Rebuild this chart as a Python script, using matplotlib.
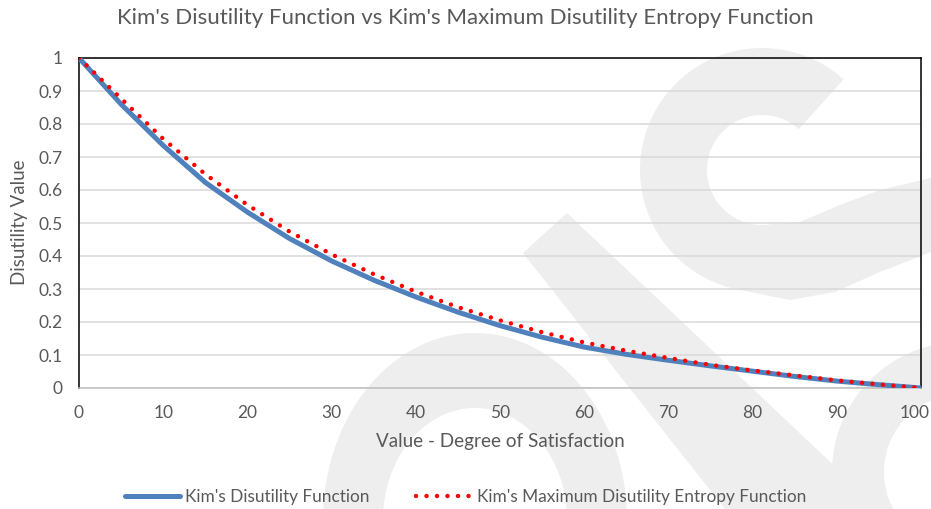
import numpy as np
import matplotlib
matplotlib.use("Agg")
import matplotlib.pyplot as plt
from matplotlib.patches import Polygon
from matplotlib.transforms import ScaledTranslation

# ---------------- data ----------------
satisfaction = [0, 5, 10, 15, 20, 25, 30, 35, 40, 45, 50,
                55, 60, 65, 70, 75, 80, 85, 90, 95, 100]
kim_disutility = [1.000, 0.860, 0.735, 0.623, 0.533, 0.453, 0.385, 0.327,
                  0.276, 0.230, 0.189, 0.154, 0.124, 0.102, 0.084, 0.067,
                  0.051, 0.035, 0.021, 0.010, 0.000]
kim_max_entropy = [1.000, 0.877, 0.755, 0.648, 0.555, 0.474, 0.405, 0.345,
                   0.292, 0.245, 0.205, 0.169, 0.138, 0.113, 0.091, 0.070,
                   0.053, 0.038, 0.023, 0.011, 0.000]
x_ticks = [0, 10, 20, 30, 40, 50, 60, 70, 80, 90, 100]
y_ticks = [0, 0.1, 0.2, 0.3, 0.4, 0.5, 0.6, 0.7, 0.8, 0.9, 1]
y_tick_labels = ["0", "0.1", "0.2", "0.3", "0.4", "0.5", "0.6", "0.7", "0.8", "0.9", "1"]

TXT = "#595959"
FONT = ["Lato", "DejaVu Sans"]
plt.rcParams["font.family"] = FONT

W, H = 931, 509
fig = plt.figure(figsize=(W / 100, H / 100), dpi=100)
fig.patch.set_facecolor("white")

# ---------------- faint background watermark (decoration) ----------------
bg = fig.add_axes([0, 0, 1, 1], zorder=0)
bg.set_xlim(0, W)
bg.set_ylim(H, 0)
bg.axis("off")
WM = "#eeeeee"

def ring(cx, cy, r_out, r_in, a0, a1, n=120):
    t = np.radians(np.linspace(a0, a1, n))
    outer = np.c_[cx + r_out * np.cos(t), cy - r_out * np.sin(t)]
    t2 = t[::-1]
    inner = np.c_[cx + r_in * np.cos(t2), cy - r_in * np.sin(t2)]
    return np.vstack([outer, inner])

def ering(cx, cy, a_out, b_out, a_in, b_in, a0, a1, n=120):
    t = np.radians(np.linspace(a0, a1, n))
    outer = np.c_[cx + a_out * np.cos(t), cy - b_out * np.sin(t)]
    t2 = t[::-1]
    inner = np.c_[cx + a_in * np.cos(t2), cy - b_in * np.sin(t2)]
    return np.vstack([outer, inner])

shapes = [
    ring(762, 170, 122, 55, 48, 285),
    np.array([[757, 226], [800, 222], [840, 205], [880, 190], [931, 178],
              [931, 252], [880, 272], [835, 292], [790, 300], [745, 291]]),
    np.array([[523, 253], [567, 213], [880, 509], [725, 509]]),
    ering(475, 520, 152, 187, 92, 112, 0, 180),
    ring(962, 472, 130, 78, 90, 270),
]
for s in shapes:
    bg.add_patch(Polygon(s, closed=True, facecolor=WM, edgecolor="none"))

# ---------------- main axes ----------------
left, right, top, bottom = 79, 921, 58, 388
ax = fig.add_axes([left / W, 1 - bottom / H, (right - left) / W, (bottom - top) / H], zorder=1)
ax.patch.set_alpha(0)

ax.plot(satisfaction, kim_disutility, color="#4F81BD", lw=3.6,
        solid_capstyle="round", solid_joinstyle="round",
        label="Kim's Disutility Function", zorder=3)
ax.plot(satisfaction, kim_max_entropy, color="#FF0000", lw=3.2,
        linestyle=(0, (0.01, 2.35)), dash_capstyle="round",
        label="Kim's Maximum Disutility Entropy Function", zorder=4)

ax.set_xlim(0, 100)
ax.set_ylim(0, 1)
ax.set_xticks(x_ticks)
ax.set_yticks(y_ticks)
ax.set_yticklabels(y_tick_labels)
ax.tick_params(length=0, pad=12, labelsize=12.5, labelcolor=TXT)
ax.grid(axis="y", color="#d9d9d9", lw=1.1, zorder=1)
ax.set_axisbelow(True)
for side in ["left", "top", "right"]:
    ax.spines[side].set_color("black")
    ax.spines[side].set_linewidth(1.1)
ax.spines["bottom"].set_color("#bfbfbf")
ax.spines["bottom"].set_linewidth(1.1)

# keep the last x tick label inside the figure, as in the reference
last = ax.get_xticklabels()[-1]
last.set_horizontalalignment("right")
last.set_transform(last.get_transform() + ScaledTranslation(9 / 100, 0, fig.dpi_scale_trans))

fig.text(0.5, 1 - 18 / H, "Kim's Disutility Function vs Kim's Maximum Disutility Entropy Function",
         ha="center", va="center", fontsize=16, color=TXT)
fig.text(500 / W, 1 - 442 / H, "Value - Degree of Satisfaction",
         ha="center", va="center", fontsize=13.6, color=TXT)
fig.text(20 / W, 1 - 222 / H, "Disutility Value", rotation=90,
         ha="center", va="center", fontsize=13.5, color=TXT)

leg = fig.legend(loc="center", bbox_to_anchor=(0.5, 1 - 497 / H), ncol=2, frameon=False,
                 fontsize=12.4, handlelength=3.2, handletextpad=0.3, columnspacing=2.7)
for t in leg.get_texts():
    t.set_color(TXT)

fig.savefig("out.png", dpi=100)
